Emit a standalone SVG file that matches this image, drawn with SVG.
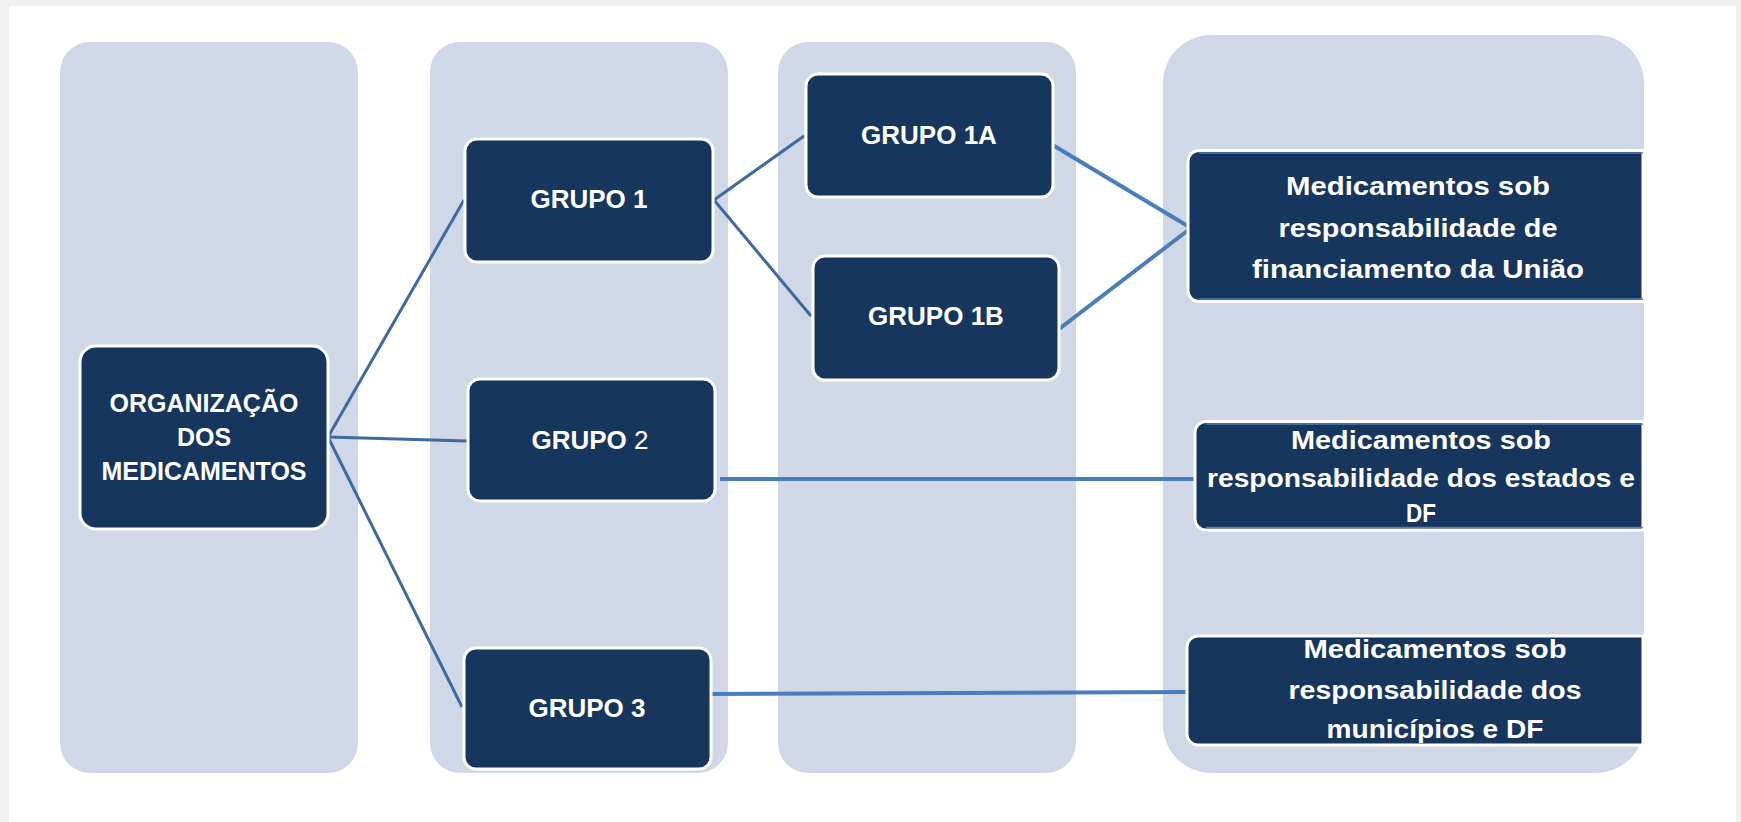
<svg xmlns="http://www.w3.org/2000/svg" width="1741" height="822" viewBox="0 0 1741 822">
  <style>
    .panel { fill: #d0d8e8; }
    .box { fill: #17365d; stroke: #ffffff; stroke-width: 3; }
    .rbox { fill: #17365d; stroke: #ffffff; stroke-width: 3; }
    .edge { stroke: #4f81bd; stroke-width: 1.5; fill: none; }
    .lbl { font-family: "Liberation Sans", Arial, sans-serif; font-weight: bold; fill: #ffffff; text-anchor: middle; }
    .c1 { font-size: 25px; }
    .c2 { font-size: 26px; }
    .rl { font-size: 25px; }
    .con { fill: none; stroke-linecap: butt; }
    .thin { stroke: #3f6aa0; stroke-width: 3; }
    .thick { stroke: #4a7ebb; stroke-width: 4; }
  </style>

  <!-- page background -->
  <rect x="0" y="0" width="1741" height="822" fill="#efefef"/>
  <rect x="9" y="6" width="1727" height="816" fill="#ffffff"/>

  <!-- column panels -->
  <g id="panels">
    <rect class="panel" x="60" y="42" width="298" height="731" rx="30" ry="30"/>
    <rect class="panel" x="430" y="42" width="298" height="731" rx="30" ry="30"/>
    <rect class="panel" x="778" y="42" width="298" height="731" rx="30" ry="30"/>
    <rect class="panel" x="1163" y="35" width="481" height="738" rx="48" ry="48"/>
  </g>

  <!-- connectors -->
  <g id="connectors">
    <line class="con thin" x1="328" y1="437" x2="464" y2="200"/>
    <line class="con thin" x1="328" y1="437" x2="467" y2="441"/>
    <line class="con thin" x1="328" y1="437" x2="462" y2="707"/>
    <line class="con thin" x1="714" y1="200" x2="804" y2="136"/>
    <line class="con thin" x1="714" y1="200" x2="811" y2="316"/>
    <line class="con thick" x1="1046" y1="141" x2="1191" y2="228"/>
    <line class="con thick" x1="1046" y1="339" x2="1191" y2="228"/>
    <line class="con thick" x1="720" y1="479" x2="1196" y2="479"/>
    <line class="con thick" x1="709" y1="694" x2="1188" y2="692"/>
  </g>

  <g id="node-organizacao">
    <rect class="box" x="80" y="346" width="248" height="183" rx="16" ry="16"/>
    <text class="lbl c1" x="204" y="412">ORGANIZAÇÃO</text>
    <text class="lbl c1" x="204" y="446">DOS</text>
    <text class="lbl c1" x="204" y="480">MEDICAMENTOS</text>
  </g>

  <g id="node-grupo1">
    <rect class="box" x="465" y="139" width="248" height="123" rx="12" ry="12"/>
    <text class="lbl c2" x="589" y="208">GRUPO 1</text>
  </g>

  <g id="node-grupo2">
    <rect class="box" x="468" y="379" width="247" height="122" rx="12" ry="12"/>
    <text class="lbl c2" x="590" y="449">GRUPO <tspan font-weight="normal">2</tspan></text>
  </g>

  <g id="node-grupo3">
    <rect class="box" x="464" y="648" width="247" height="121" rx="12" ry="12"/>
    <text class="lbl c2" x="587" y="717">GRUPO 3</text>
  </g>

  <g id="node-grupo1a">
    <rect class="box" x="806" y="74" width="247" height="123" rx="12" ry="12"/>
    <text class="lbl c2" x="929" y="144">GRUPO 1A</text>
  </g>

  <g id="node-grupo1b">
    <rect class="box" x="813" y="256" width="246" height="124" rx="12" ry="12"/>
    <text class="lbl c2" x="936" y="325">GRUPO 1B</text>
  </g>

  <g id="node-uniao">
    <path class="rbox" d="M1199,150.5 H1643 V301.5 H1199 A11,11 0 0 1 1188,290.5 V161.5 A11,11 0 0 1 1199,150.5 Z"/>
    <line class="edge" x1="1199" y1="153" x2="1643" y2="153"/>
    <line class="edge" x1="1199" y1="299" x2="1643" y2="299"/>
    <text class="lbl rl" x="1418" y="195" textLength="264" lengthAdjust="spacingAndGlyphs">Medicamentos sob</text>
    <text class="lbl rl" x="1418" y="237" textLength="279" lengthAdjust="spacingAndGlyphs">responsabilidade de</text>
    <text class="lbl rl" x="1418" y="278" textLength="332" lengthAdjust="spacingAndGlyphs">financiamento da União</text>
  </g>

  <g id="node-estados">
    <path class="rbox" d="M1206,421.5 H1643 V530 H1206 A11,11 0 0 1 1195,519 V432.5 A11,11 0 0 1 1206,421.5 Z"/>
    <line class="edge" x1="1206" y1="424" x2="1643" y2="424"/>
    <line class="edge" x1="1206" y1="527.5" x2="1643" y2="527.5"/>
    <text class="lbl rl" x="1421" y="449" textLength="260" lengthAdjust="spacingAndGlyphs">Medicamentos sob</text>
    <text class="lbl rl" x="1421" y="487" textLength="428" lengthAdjust="spacingAndGlyphs">responsabilidade dos estados e</text>
    <text class="lbl rl" x="1421" y="522" textLength="30" lengthAdjust="spacingAndGlyphs">DF</text>
  </g>

  <g id="node-municipios">
    <path class="rbox" d="M1198,636 H1643 V745 H1198 A11,11 0 0 1 1187,734 V647 A11,11 0 0 1 1198,636 Z"/>
    <text class="lbl rl" x="1435" y="658" textLength="263" lengthAdjust="spacingAndGlyphs">Medicamentos sob</text>
    <text class="lbl rl" x="1435" y="699" textLength="293" lengthAdjust="spacingAndGlyphs">responsabilidade dos</text>
    <text class="lbl rl" x="1435" y="738" textLength="217" lengthAdjust="spacingAndGlyphs">municípios e DF</text>
  </g>
</svg>
